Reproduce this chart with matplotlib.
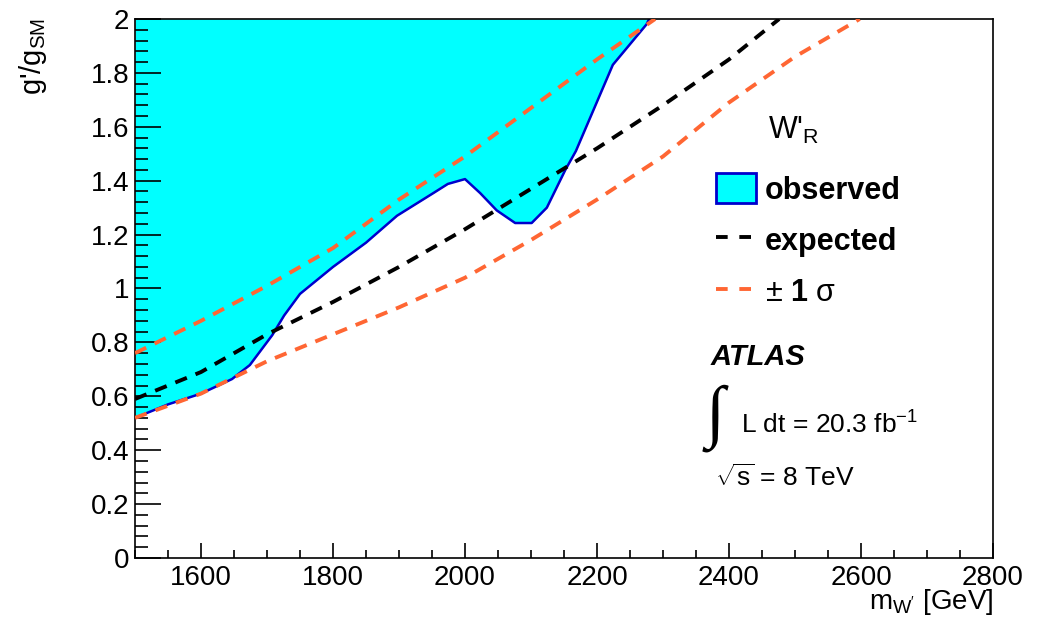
import numpy as np
import matplotlib
matplotlib.use('Agg')
import matplotlib.pyplot as plt
from matplotlib.lines import Line2D
from matplotlib.patches import Patch
from matplotlib.ticker import MultipleLocator, FuncFormatter

plt.rcParams['font.family'] = ['Liberation Sans', 'DejaVu Sans']
plt.rcParams['mathtext.fontset'] = 'custom'
plt.rcParams['mathtext.rm'] = 'Liberation Sans'
plt.rcParams['mathtext.it'] = 'Liberation Sans:italic'
plt.rcParams['mathtext.bf'] = 'Liberation Sans:bold'

# observed limit (lower edge of excluded region)
obs_m = [1500, 1550, 1600, 1647, 1674, 1708, 1726, 1750, 1800, 1850, 1897,
         1952, 1974, 2000, 2023, 2048, 2076, 2101, 2124, 2152, 2168, 2224, 2275, 2279]
obs_g = [0.52, 0.57, 0.61, 0.664, 0.716, 0.827, 0.90, 0.98, 1.08, 1.17, 1.27,
         1.354, 1.388, 1.406, 1.354, 1.29, 1.243, 1.243, 1.30, 1.44, 1.51, 1.83, 1.98, 2.0]

# expected limit
exp_m = [1500, 1600, 1700, 1800, 1900, 2000, 2100, 2200, 2300, 2400, 2476]
exp_g = [0.59, 0.69, 0.83, 0.95, 1.08, 1.22, 1.37, 1.52, 1.68, 1.85, 2.0]

# +-1 sigma band edges
up_m = [1500, 1600, 1700, 1800, 1900, 2000, 2100, 2200, 2288]
up_g = [0.76, 0.88, 1.01, 1.15, 1.33, 1.49, 1.67, 1.85, 2.0]
dn_m = [1500, 1600, 1700, 1800, 1900, 2000, 2100, 2200, 2300, 2400, 2500, 2598]
dn_g = [0.52, 0.61, 0.73, 0.83, 0.93, 1.04, 1.18, 1.33, 1.49, 1.69, 1.86, 2.0]

W, H = 1037, 628
def px(x, y):
    return x / W, 1 - y / H

fig = plt.figure(figsize=(W / 100, H / 100), dpi=100)
ax = fig.add_axes([135 / W, (H - 558) / H, (993 - 135) / W, (558 - 19) / H])

orange = '#ff6633'
dash = (0, (3.2, 2.4))
ax.fill_between(obs_m, obs_g, 2.0, color='#00ffff', lw=0, zorder=1)
ax.plot(obs_m, obs_g, color='#0000cc', lw=1.8, zorder=2)
ax.plot(up_m, up_g, color=orange, lw=2.8, ls=dash, zorder=3)
ax.plot(dn_m, dn_g, color=orange, lw=2.8, ls=dash, zorder=3)
ax.plot(exp_m, exp_g, color='black', lw=2.8, ls=dash, zorder=4)

ax.set_xlim(1500, 2800)
ax.set_ylim(0, 2)
ax.xaxis.set_major_locator(MultipleLocator(200))
ax.xaxis.set_minor_locator(MultipleLocator(50))
ax.yaxis.set_major_locator(MultipleLocator(0.2))
ax.yaxis.set_minor_locator(MultipleLocator(0.04))
ax.yaxis.set_major_formatter(FuncFormatter(lambda v, p: '%g' % round(v, 2)))
ax.set_xticks([1600, 1800, 2000, 2200, 2400, 2600, 2800])
ax.tick_params(which='both', direction='in', top=False, right=False, labelsize=20, width=1.2)
ax.tick_params(axis='y', which='major', length=19, pad=4)
ax.tick_params(axis='y', which='minor', length=9)
ax.tick_params(axis='x', which='major', length=11, pad=5)
ax.tick_params(axis='x', which='minor', length=6)
for s in ax.spines.values():
    s.set_linewidth(1.2)

fig.text(*px(33, 18), "g'/g$_{\\mathrm{SM}}$", rotation=90, ha='center', va='top', fontsize=21)
fig.text(*px(993, 602), "m$_{\\mathrm{W'}}$ [GeV]", ha='right', va='center', fontsize=20)

handles = [Patch(facecolor='#00ffff', edgecolor='#0000cc', lw=2),
           Line2D([], [], color='black', lw=2.8, ls=(0, (3, 3))),
           Line2D([], [], color=orange, lw=2.8, ls=(0, (3, 3)))]
labels = ['observed', 'expected', r'$\pm\ \mathbf{1}\ \mathrm{\sigma}$']
leg = fig.legend(handles, labels, loc='upper left', bbox_to_anchor=px(716, 173),
                 frameon=False, prop={'size': 22, 'weight': 'bold'},
                 handlelength=1.3, handleheight=1.15, handletextpad=0.3, labelspacing=0.62,
                 borderaxespad=0, borderpad=0)

fig.text(*px(768, 130), "W'$_{\\mathrm{R}}$", ha='left', va='center', fontsize=22)
fig.text(*px(711, 357), 'ATLAS', ha='left', va='center', fontsize=21,
         fontweight='bold', fontstyle='italic')
fig.text(*px(706, 418), '\u222b', ha='left', va='center', fontsize=50,
         family=['Liberation Serif', 'DejaVu Serif'])
fig.text(*px(741, 425), 'L dt = 20.3 fb$^{-1}$', ha='left', va='center', fontsize=19)
fig.text(*px(715, 478), r'$\sqrt{\mathrm{s}}$ = 8 TeV', ha='left', va='center', fontsize=19)

fig.savefig('out.png', dpi=100)
